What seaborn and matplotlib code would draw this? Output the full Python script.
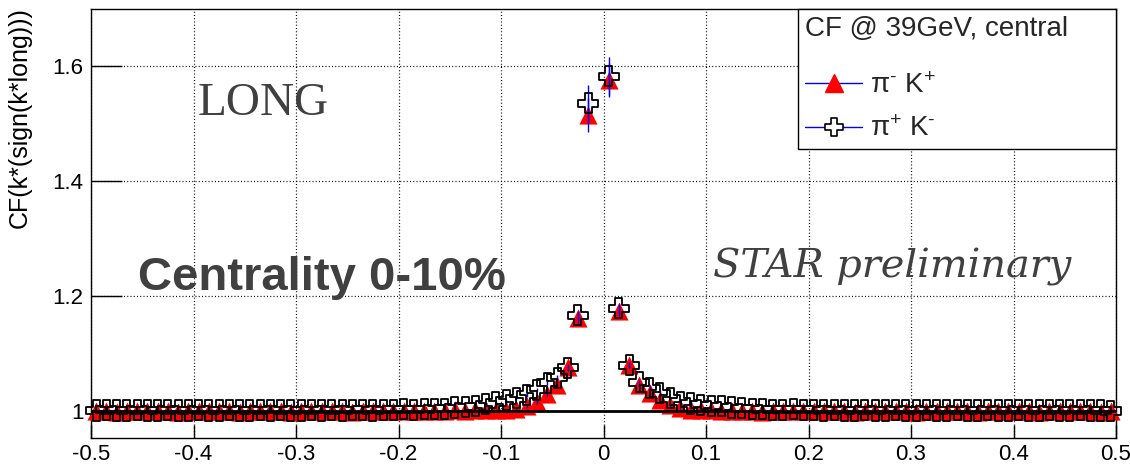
import numpy as np
import pandas as pd
import matplotlib
matplotlib.use("Agg")
import matplotlib.pyplot as plt
from matplotlib.path import Path
from matplotlib.lines import Line2D
import seaborn as sns

# Histogram binning of k* (sign of k*_long), GeV/c
N_BINS = 100
K_MIN, K_MAX = -0.5, 0.5

# pi- K+ correlation function (bin -0.005 is empty)
cf_pim_kp = [
    1.000, 1.000, 0.999, 1.000, 1.000, 1.000, 1.000, 1.000, 0.999, 1.000,
    1.000, 1.000, 1.000, 1.000, 0.999, 1.000, 1.000, 1.000, 1.000, 0.999,
    1.000, 1.000, 1.000, 1.000, 1.000, 0.999, 1.000, 1.000, 1.000, 1.000,
    1.000, 1.000, 1.000, 1.000, 1.000, 1.001, 1.000, 1.001, 1.001, 1.001,
    1.002, 1.004, 1.008, 1.016, 1.030, 1.045, 1.077, 1.162, 1.515, np.nan,
    1.576, 1.174, 1.080, 1.045, 1.031, 1.019, 1.010, 1.005, 1.002, 1.001,
    1.001, 1.000, 1.000, 1.000, 1.000, 0.999, 1.000, 1.000, 1.000, 1.000,
    1.000, 1.000, 1.000, 1.000, 0.999, 1.000, 1.000, 1.000, 1.000, 1.000,
    0.999, 1.000, 1.000, 1.000, 1.000, 1.000, 0.999, 1.000, 1.000, 1.000,
    1.000, 1.000, 0.999, 1.000, 1.000, 1.000, 1.000, 1.000, 0.999, 1.000,
]
err_pim_kp = [
    0.002, 0.002, 0.002, 0.002, 0.002, 0.002, 0.002, 0.002, 0.002, 0.002,
    0.002, 0.002, 0.002, 0.002, 0.002, 0.002, 0.002, 0.002, 0.002, 0.002,
    0.002, 0.002, 0.002, 0.002, 0.002, 0.002, 0.002, 0.002, 0.002, 0.002,
    0.002, 0.002, 0.002, 0.002, 0.002, 0.002, 0.002, 0.002, 0.002, 0.002,
    0.002, 0.002, 0.003, 0.003, 0.003, 0.004, 0.005, 0.008, 0.030, np.nan,
    0.030, 0.008, 0.005, 0.004, 0.003, 0.003, 0.003, 0.002, 0.002, 0.002,
    0.002, 0.002, 0.002, 0.002, 0.002, 0.002, 0.002, 0.002, 0.002, 0.002,
    0.002, 0.002, 0.002, 0.002, 0.002, 0.002, 0.002, 0.002, 0.002, 0.002,
    0.002, 0.002, 0.002, 0.002, 0.002, 0.002, 0.002, 0.002, 0.002, 0.002,
    0.002, 0.002, 0.002, 0.002, 0.002, 0.002, 0.002, 0.002, 0.002, 0.002,
]

# pi+ K- correlation function (bin -0.005 is empty)
cf_pip_km = [
    1.001, 1.002, 1.001, 1.001, 1.002, 1.001, 1.001, 1.002, 1.001, 1.001,
    1.002, 1.001, 1.001, 1.002, 1.001, 1.001, 1.002, 1.001, 1.002, 1.001,
    1.001, 1.002, 1.001, 1.002, 1.001, 1.002, 1.002, 1.001, 1.002, 1.002,
    1.003, 1.002, 1.003, 1.004, 1.004, 1.006, 1.007, 1.008, 1.012, 1.015,
    1.019, 1.022, 1.028, 1.037, 1.049, 1.058, 1.075, 1.167, 1.536, np.nan,
    1.583, 1.179, 1.080, 1.050, 1.040, 1.031, 1.022, 1.016, 1.013, 1.011,
    1.009, 1.008, 1.006, 1.005, 1.004, 1.003, 1.002, 1.002, 1.003, 1.002,
    1.002, 1.001, 1.002, 1.001, 1.001, 1.002, 1.001, 1.001, 1.002, 1.001,
    1.001, 1.002, 1.001, 1.001, 1.002, 1.001, 1.001, 1.002, 1.001, 1.001,
    1.002, 1.001, 1.001, 1.002, 1.001, 1.001, 1.002, 1.001, 1.001, 1.000,
]
err_pip_km = [
    0.002, 0.002, 0.002, 0.002, 0.002, 0.002, 0.002, 0.002, 0.002, 0.002,
    0.002, 0.002, 0.002, 0.002, 0.002, 0.002, 0.002, 0.002, 0.002, 0.002,
    0.002, 0.002, 0.002, 0.002, 0.002, 0.002, 0.002, 0.002, 0.002, 0.002,
    0.002, 0.002, 0.002, 0.002, 0.002, 0.002, 0.002, 0.002, 0.002, 0.002,
    0.002, 0.002, 0.003, 0.003, 0.003, 0.004, 0.005, 0.008, 0.032, np.nan,
    0.033, 0.008, 0.005, 0.004, 0.003, 0.003, 0.003, 0.002, 0.002, 0.002,
    0.002, 0.002, 0.002, 0.002, 0.002, 0.002, 0.002, 0.002, 0.002, 0.002,
    0.002, 0.002, 0.002, 0.002, 0.002, 0.002, 0.002, 0.002, 0.002, 0.002,
    0.002, 0.002, 0.002, 0.002, 0.002, 0.002, 0.002, 0.002, 0.002, 0.002,
    0.002, 0.002, 0.002, 0.002, 0.002, 0.002, 0.002, 0.002, 0.002, 0.002,
]

x_ticks = [-0.5, -0.4, -0.3, -0.2, -0.1, 0.0, 0.1, 0.2, 0.3, 0.4, 0.5]
x_tick_labels = ["-0.5", "-0.4", "-0.3", "-0.2", "-0.1", "0",
                 "0.1", "0.2", "0.3", "0.4", "0.5"]
y_ticks = [1.0, 1.2, 1.4, 1.6]
y_tick_labels = ["1", "1.2", "1.4", "1.6"]

legend_title = "CF @ 39GeV, central"
label_pim_kp = r"π$^{\text{-}}$ K$^{+}$"
label_pip_km = r"π$^{+}$ K$^{\text{-}}$"

sns.set_theme(style="white")
plt.rcParams["font.family"] = ["Liberation Sans", "DejaVu Sans"]
plt.rcParams["mathtext.fontset"] = "custom"
plt.rcParams["mathtext.rm"] = "Liberation Sans"
plt.rcParams["mathtext.it"] = "Liberation Sans:italic"
plt.rcParams["mathtext.bf"] = "Liberation Sans:bold"

edges = np.linspace(K_MIN, K_MAX, N_BINS + 1)
k_centers = 0.5 * (edges[:-1] + edges[1:])

df_a = pd.DataFrame({"kstar": k_centers, "cf": cf_pim_kp, "err": err_pim_kp})
df_b = pd.DataFrame({"kstar": k_centers, "cf": cf_pip_km, "err": err_pip_km})

# open cross marker
a = 0.35
cross = Path([(-a, 1), (a, 1), (a, a), (1, a), (1, -a), (a, -a), (a, -1),
              (-a, -1), (-a, -a), (-1, -a), (-1, a), (-a, a), (-a, 1)],
             closed=True)

W, H = 1130, 466
fig = plt.figure(figsize=(W / 100, H / 100), dpi=100)
ax = fig.add_axes([91 / W, 28 / H, 1025 / W, 429 / H])
ax.set_facecolor("white")

# pi- K+ : red filled triangles
sns.scatterplot(data=df_a, x="kstar", y="cf", marker="^", s=170,
                color="red", edgecolor="red", linewidth=0, ax=ax,
                legend=False, zorder=3, clip_on=False)
ax.errorbar(df_a["kstar"], df_a["cf"], yerr=df_a["err"], fmt="none",
            ecolor="blue", elinewidth=1, capsize=0, zorder=3.2)

ax.axhline(1.0, color="black", lw=2, zorder=3.5)

# pi+ K- : open black crosses
sns.scatterplot(data=df_b, x="kstar", y="cf", marker=cross, s=14.5 ** 2,
                color="black", ax=ax, legend=False, zorder=5, clip_on=False)
coll = ax.collections[-1]
coll.set_facecolor("none")
coll.set_edgecolor("black")
coll.set_linewidth(1.3)
ax.errorbar(df_b["kstar"], df_b["cf"], yerr=df_b["err"], fmt="none",
            ecolor="blue", elinewidth=1, capsize=0, zorder=4.5)

ax.set_xlim(K_MIN, K_MAX)
ax.set_ylim(0.953, 1.7)
ax.set_xticks(x_ticks)
ax.set_xticklabels(x_tick_labels)
ax.set_yticks(y_ticks)
ax.set_yticklabels(y_tick_labels)
ax.minorticks_off()

ax.tick_params(axis="both", direction="in", colors="black", width=1,
               labelsize=16, labelcolor="black")
ax.tick_params(axis="x", length=9.5, pad=4.5)
ax.tick_params(axis="y", length=22, pad=5.5)
ax.tick_params(top=False, right=False, bottom=True, left=True)

for sp in ax.spines.values():
    sp.set_color("black")
    sp.set_linewidth(1)
    sp.set_visible(True)

ax.grid(True, color="black", linestyle=(0, (0.8, 1.8)), linewidth=0.9)
ax.set_axisbelow(True)

ax.set_xlabel("")
ax.set_ylabel("CF(k*(sign(k*long)))", fontsize=18, color="black", loc="top")
ax.yaxis.set_label_coords(-0.0576, 1.005)

ax.text(-0.396, 1.515, "LONG", family="Liberation Serif", fontsize=34,
        color="#404040", ha="left", va="baseline")
ax.text(-0.454, 1.2104, "Centrality 0-10%", family="Liberation Sans",
        weight="bold", fontsize=34, color="#404040", ha="left", va="baseline")
ax.text(0.107, 1.233, "STAR preliminary", family="DejaVu Serif",
        style="italic", fontsize=28.7, color="#404040", ha="left",
        va="baseline")

h_a = Line2D([], [], color="blue", lw=1, marker="^", ms=12.5,
             mfc="red", mec="red")
h_b = Line2D([], [], color="blue", lw=1, marker=cross, ms=13,
             mfc="white", mec="black", mew=1.2)
leg = ax.legend([h_a, h_b], [label_pim_kp, label_pip_km], title=legend_title,
                loc="upper left", bbox_to_anchor=(0.69, 0.0, 0.31, 1.0),
                mode="expand", borderaxespad=0, frameon=True, fancybox=False,
                edgecolor="black", framealpha=1, fontsize=20,
                title_fontsize=20, alignment="left", handlelength=2.05,
                handletextpad=0.3, labelspacing=0.62, borderpad=0.25)
leg.get_frame().set_linewidth(1)
leg.set_zorder(10)
# extra gap between the legend title and its entries
leg._legend_box.sep = 0.62 * 20 + 10

fig.savefig("out.png", dpi=100, facecolor="white")
